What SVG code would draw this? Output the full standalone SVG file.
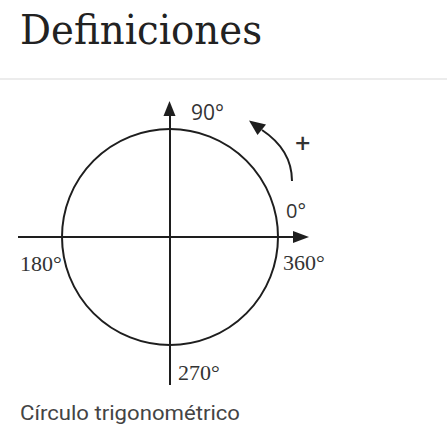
<svg xmlns="http://www.w3.org/2000/svg" width="447" height="439" viewBox="0 0 447 439">
<style>
.ln{fill:none;stroke:#1e1e1e;stroke-width:2}
.hd{fill:#1e1e1e}
.serif{font-family:"Liberation Serif","Times New Roman",serif;fill:#333;font-size:22px}
.sans{font-family:"Open Sans","DejaVu Sans",sans-serif;fill:#333}
</style>
<rect width="447" height="439" fill="#fff"/>
<text x="20" y="44" font-family="DejaVu Serif, serif" font-size="41" fill="#222" textLength="242" lengthAdjust="spacingAndGlyphs">Definiciones</text>
<line x1="0" y1="79" x2="447" y2="79" stroke="#e6e6e6" stroke-width="1.5"/>
<g id="circle"><circle class="ln" cx="170" cy="237" r="108"/></g>
<g id="connectors">
<line class="ln" x1="18" y1="237" x2="296" y2="237"/>
<polygon class="hd" points="309,237 293,231 293,243"/>
<line class="ln" x1="170" y1="385" x2="170" y2="113"/>
<polygon class="hd" points="169.5,101 163.5,116 175.5,116"/>
<path class="ln" stroke-width="2.4" d="M292,181 Q292,150 262,130"/>
<polygon class="hd" points="249,120.5 266,124.5 257.5,135"/>
</g>
<g id="labels">
<text class="sans" x="191" y="120" font-size="21">90°</text>
<text class="sans" x="295" y="153" font-size="27" font-weight="600">+</text>
<text class="sans" x="286" y="218" font-size="20">0°</text>
<text class="serif" x="20" y="271">180°</text>
<text class="serif" x="283" y="270">360°</text>
<text class="serif" x="178" y="380">270°</text>
</g>
<text x="20" y="420" font-family="Roboto, sans-serif" font-size="21" fill="#444" textLength="220" lengthAdjust="spacingAndGlyphs">Círculo trigonométrico</text>
</svg>
